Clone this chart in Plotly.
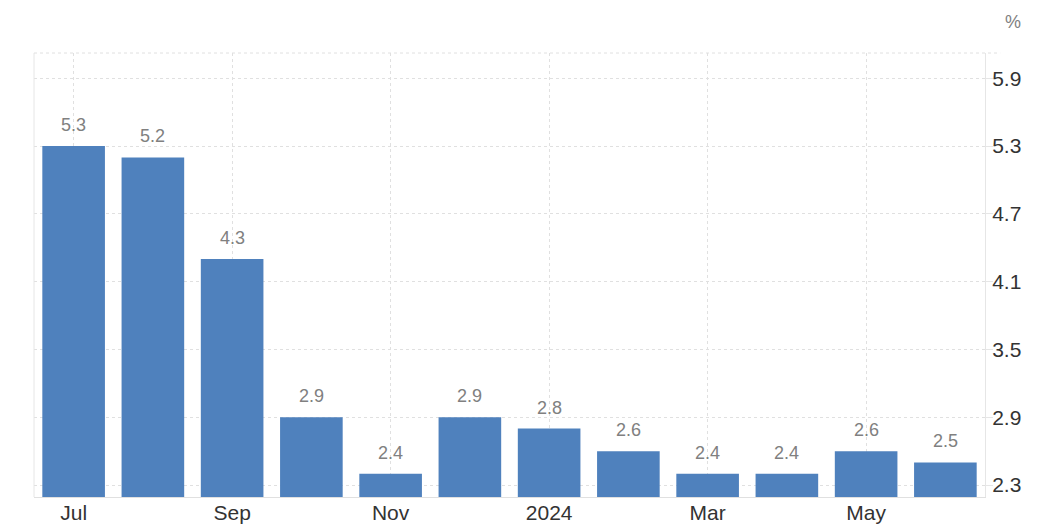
import plotly.graph_objects as go

months = ["Jul 2023", "Aug 2023", "Sep 2023", "Oct 2023", "Nov 2023", "Dec 2023",
          "Jan 2024", "Feb 2024", "Mar 2024", "Apr 2024", "May 2024", "Jun 2024"]
values = [5.3, 5.2, 4.3, 2.9, 2.4, 2.9, 2.8, 2.6, 2.4, 2.4, 2.6, 2.5]
x_tick_vals = ["Jul 2023", "Sep 2023", "Nov 2023", "Jan 2024", "Mar 2024", "May 2024"]
x_tick_text = ["Jul", "Sep", "Nov", "2024", "Mar", "May"]
y_ticks = [2.3, 2.9, 3.5, 4.1, 4.7, 5.3, 5.9]

bar_color = "#4f81bd"
grid_color = "#e0e0e0"
font_family = "Liberation Sans, Arial, sans-serif"

fig = go.Figure()
fig.add_trace(go.Bar(
    x=months, y=values,
    marker=dict(color=bar_color, line=dict(width=0)),
    width=0.79,
    hoverinfo="x+y",
))

for m, v in zip(months, values):
    fig.add_annotation(
        x=m, y=v, text=f"{v:.1f}", showarrow=False,
        yanchor="bottom", yshift=9,
        font=dict(family=font_family, size=18, color="#808080"),
    )

fig.add_annotation(
    xref="paper", yref="paper", x=1.0295, y=1.0, yshift=31,
    text="%", showarrow=False, xanchor="center", yanchor="middle",
    font=dict(family=font_family, size=18, color="#808080"),
)

# left border and top dotted border
fig.add_shape(type="line", xref="paper", yref="paper", x0=0, x1=0, y0=0, y1=1,
              line=dict(color="#e6e6e6", width=1))
fig.add_shape(type="line", xref="paper", yref="paper", x0=0, x1=1.016, y0=1, y1=1,
              line=dict(color=grid_color, width=1, dash="dot"))

fig.update_layout(
    width=1035, height=522,
    margin=dict(l=26, r=58, t=45, b=33, autoexpand=False),
    paper_bgcolor="white", plot_bgcolor="white",
    showlegend=False,
    font=dict(family=font_family),
    bargap=0.21,
    xaxis=dict(
        type="category", categoryorder="array", categoryarray=months,
        range=[-0.5, 11.5], automargin=False,
        tickmode="array", tickvals=x_tick_vals, ticktext=x_tick_text,
        showgrid=True, gridcolor=grid_color, griddash="dot", gridwidth=1,
        showline=True, linecolor="#e0e0e0", linewidth=1,
        ticks="", ticklabelstandoff=-3,
        tickfont=dict(family=font_family, size=21, color="#333333"),
        fixedrange=True,
    ),
    yaxis=dict(
        side="right", range=[2.194, 6.124], automargin=False,
        tickmode="array", tickvals=y_ticks, ticktext=[f"{t:.1f}" for t in y_ticks],
        showgrid=True, gridcolor=grid_color, griddash="dot", gridwidth=1,
        showline=True, linecolor="#e6e6e6", linewidth=1,
        ticks="outside", ticklen=7, tickcolor="#e6e6e6", ticklabelstandoff=-5,
        tickfont=dict(family=font_family, size=21, color="#333333"),
        zeroline=False, fixedrange=True,
    ),
)

fig.write_html("out.html")
